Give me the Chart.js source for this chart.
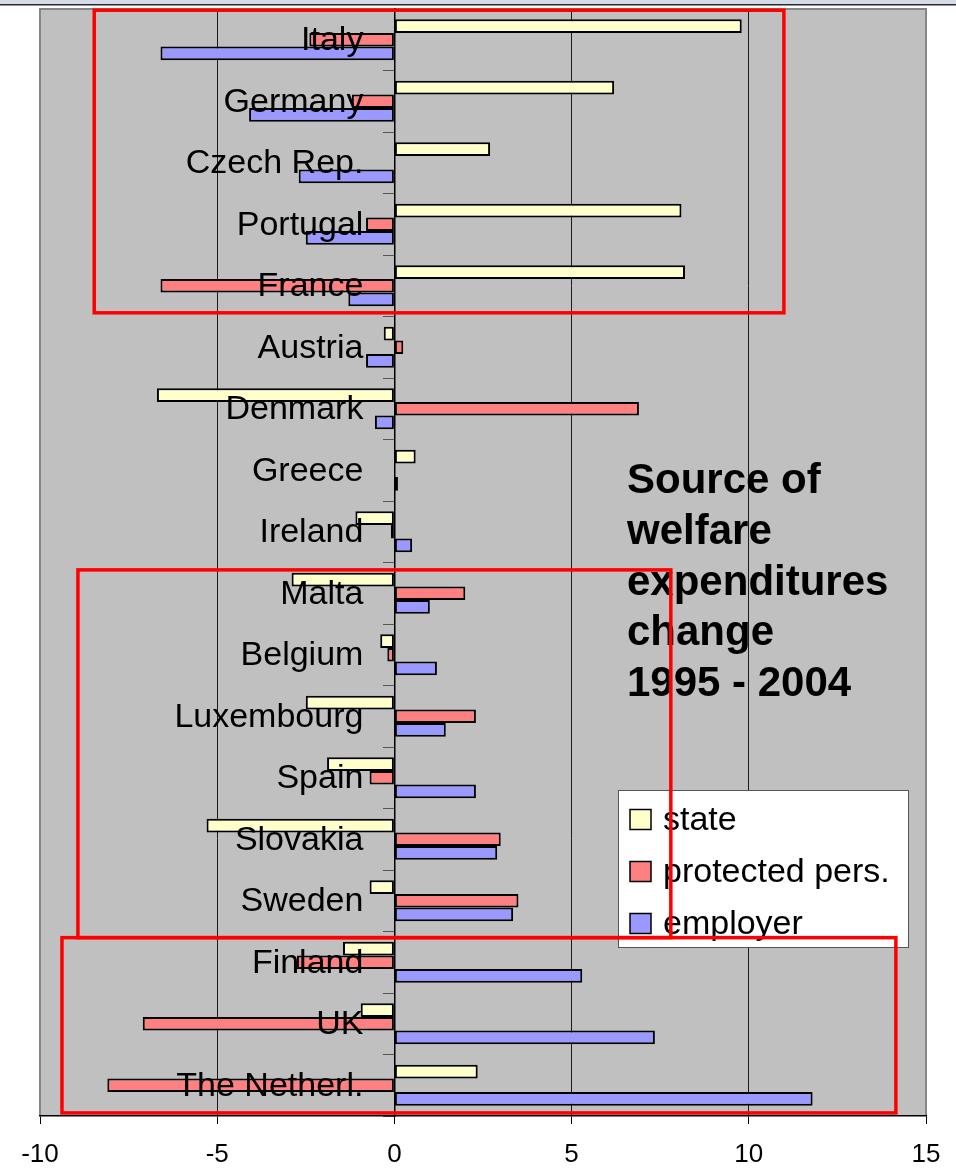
<!DOCTYPE html>
<html>
<head>
<meta charset="utf-8">
<title>Source of welfare expenditures change 1995 - 2004</title>
<script src="https://cdn.jsdelivr.net/npm/chart.js@4/dist/chart.umd.min.js"></script>
<style>
  html, body { margin: 0; padding: 0; background: #fff; }
  canvas { display: block; }
</style>
</head>
<body>
<canvas id="welfareChart" width="956" height="1175"></canvas>
<script>
// data (percentage points, 1995 -> 2004)
const categories = ['Italy', 'Germany', 'Czech Rep.', 'Portugal', 'France', 'Austria', 'Denmark', 'Greece', 'Ireland',
    'Malta', 'Belgium', 'Luxembourg', 'Spain', 'Slovakia', 'Sweden', 'Finland', 'UK', 'The Netherl.'];
const stateValues     = [9.8, 6.2, 2.7, 8.1, 8.2, -0.3, -6.7, 0.6, -1.1, -2.9, -0.4, -2.5, -1.9, -5.3, -0.7, -1.45, -0.95, 2.35];
const protectedValues = [-2.4, -1.2, 0, -0.8, -6.6, 0.25, 6.9, 0, -0.1, 2.0, -0.2, 2.3, -0.7, 3.0, 3.5, -2.75, -7.1, -8.1];
const employerValues  = [-6.6, -4.1, -2.7, -2.5, -1.3, -0.8, -0.55, 0.1, 0.5, 1.0, 1.2, 1.45, 2.3, 2.9, 3.35, 5.3, 7.35, 11.8];
const xTicks = [-10, -5, 0, 5, 10, 15];
const titleLines = ['Source of', 'welfare', 'expenditures', 'change', '1995 - 2004'];

// red highlight boxes: x in axis units, y in category index units
const boxX = [[-8.47, 10.99], [-8.93, 7.8], [-9.38, 14.15]];
const boxY = [[-0.48, 4.44], [8.62, 14.6], [14.6, 17.45]];

const FONT = "'Liberation Sans', Arial, sans-serif";

const slidePlugin = {
    id: 'slide',
    beforeDraw(chart) {
        const ctx = chart.ctx;
        const a = chart.chartArea;
        ctx.save();
        // window strip on top
        ctx.fillStyle = '#d3dce8';
        ctx.fillRect(0, 0, chart.width, 4);
        ctx.fillStyle = '#2b2b2b';
        ctx.fillRect(0, 4, chart.width, 1.5);
        // plot background
        ctx.fillStyle = '#c0c0c0';
        ctx.fillRect(a.left, a.top, a.right - a.left, a.bottom - a.top);
        ctx.strokeStyle = '#868686';
        ctx.lineWidth = 2;
        ctx.beginPath();
        ctx.moveTo(a.left, a.bottom);
        ctx.lineTo(a.left, a.top);
        ctx.lineTo(a.right, a.top);
        ctx.lineTo(a.right, a.bottom);
        ctx.stroke();
        ctx.restore();
    },
    afterDatasetsDraw(chart) {
        // country names sit on top of the bars, right-aligned left of the zero line
        const ctx = chart.ctx;
        const xs = chart.scales.x;
        const ys = chart.scales.y;
        const right = xs.getPixelForValue(0) - 31;
        ctx.save();
        ctx.fillStyle = '#000';
        ctx.font = '34px ' + FONT;
        ctx.textAlign = 'right';
        ctx.textBaseline = 'middle';
        categories.forEach((name, i) => {
            ctx.fillText(name, right, ys.getPixelForValue(i) + 1);
        });
        ctx.restore();
    },
    afterDraw(chart) {
        const ctx = chart.ctx;
        const xs = chart.scales.x;
        const ys = chart.scales.y;
        ctx.save();

        // title
        ctx.fillStyle = '#000';
        ctx.font = 'bold 42px ' + FONT;
        ctx.textAlign = 'left';
        ctx.textBaseline = 'alphabetic';
        titleLines.forEach((line, i) => {
            ctx.fillText(line, 627, 493 + i * 50.8);
        });

        // legend box
        const lx = 618, ly = 790, lw = 290, lh = 157;
        ctx.fillStyle = '#fff';
        ctx.fillRect(lx, ly, lw, lh);
        ctx.strokeStyle = '#555';
        ctx.lineWidth = 1;
        ctx.strokeRect(lx + 0.5, ly + 0.5, lw, lh);
        ctx.font = '34px ' + FONT;
        ctx.textBaseline = 'middle';
        chart.data.datasets.forEach((ds, i) => {
            const cy = ly + 29.5 + i * 52;
            ctx.fillStyle = ds.backgroundColor;
            ctx.fillRect(lx + 12, cy - 10, 21, 20);
            ctx.strokeStyle = '#000';
            ctx.lineWidth = 1.5;
            ctx.strokeRect(lx + 12, cy - 10, 21, 20);
            ctx.fillStyle = '#000';
            ctx.fillText(ds.label, lx + 45, cy + 1);
        });

        // red highlight boxes
        ctx.strokeStyle = '#ff0000';
        ctx.lineWidth = 3.5;
        boxX.forEach((bx, i) => {
            const x1 = xs.getPixelForValue(bx[0]);
            const x2 = xs.getPixelForValue(bx[1]);
            const y1 = ys.getPixelForValue(boxY[i][0]);
            const y2 = ys.getPixelForValue(boxY[i][1]);
            ctx.strokeRect(x1, y1, x2 - x1, y2 - y1);
        });
        ctx.restore();
    }
};

const barStyle = { borderColor: '#000', borderWidth: 2, borderSkipped: false, barPercentage: 1.0, categoryPercentage: 0.67 };

new Chart(document.getElementById('welfareChart').getContext('2d'), {
    type: 'bar',
    data: {
        labels: categories,
        datasets: [
            Object.assign({ label: 'state', data: stateValues, backgroundColor: '#ffffcc' }, barStyle),
            Object.assign({ label: 'protected pers.', data: protectedValues, backgroundColor: '#ff8080' }, barStyle),
            Object.assign({ label: 'employer', data: employerValues, backgroundColor: '#9999ff' }, barStyle)
        ]
    },
    options: {
        indexAxis: 'y',
        responsive: false,
        animation: false,
        devicePixelRatio: 1,
        layout: { padding: { left: 40, right: 30, top: 9, bottom: 0 } },
        plugins: {
            legend: { display: false },
            tooltip: { enabled: false }
        },
        scales: {
            x: {
                type: 'linear',
                min: xTicks[0],
                max: xTicks[xTicks.length - 1],
                afterBuildTicks: (scale) => { scale.ticks = xTicks.map(v => ({ value: v })); },
                afterFit: (scale) => { scale.height = 59; scale.paddingLeft = 0; scale.paddingRight = 0; },
                ticks: { font: { family: FONT, size: 26 }, color: '#000', padding: 15, maxRotation: 0 },
                grid: {
                    color: (c) => (c.tick && (c.tick.value === -10 || c.tick.value === 15)) ? 'rgba(0,0,0,0)' : '#1a1a1a',
                    lineWidth: 1,
                    tickLength: 8,
                    tickColor: '#000',
                    tickWidth: 1
                },
                border: { display: true, color: '#000', width: 1.5 }
            },
            y: {
                type: 'category',
                position: { x: 0 },
                offset: true,
                afterFit: (scale) => { scale.paddingTop = 0; scale.paddingBottom = 0; },
                ticks: { display: false, autoSkip: false },
                grid: {
                    drawOnChartArea: false,
                    offset: true,
                    tickLength: 11,
                    tickColor: '#555',
                    tickWidth: 1
                },
                border: { display: true, color: '#000', width: 1.5 }
            }
        }
    },
    plugins: [slidePlugin]
});
</script>
</body>
</html>
